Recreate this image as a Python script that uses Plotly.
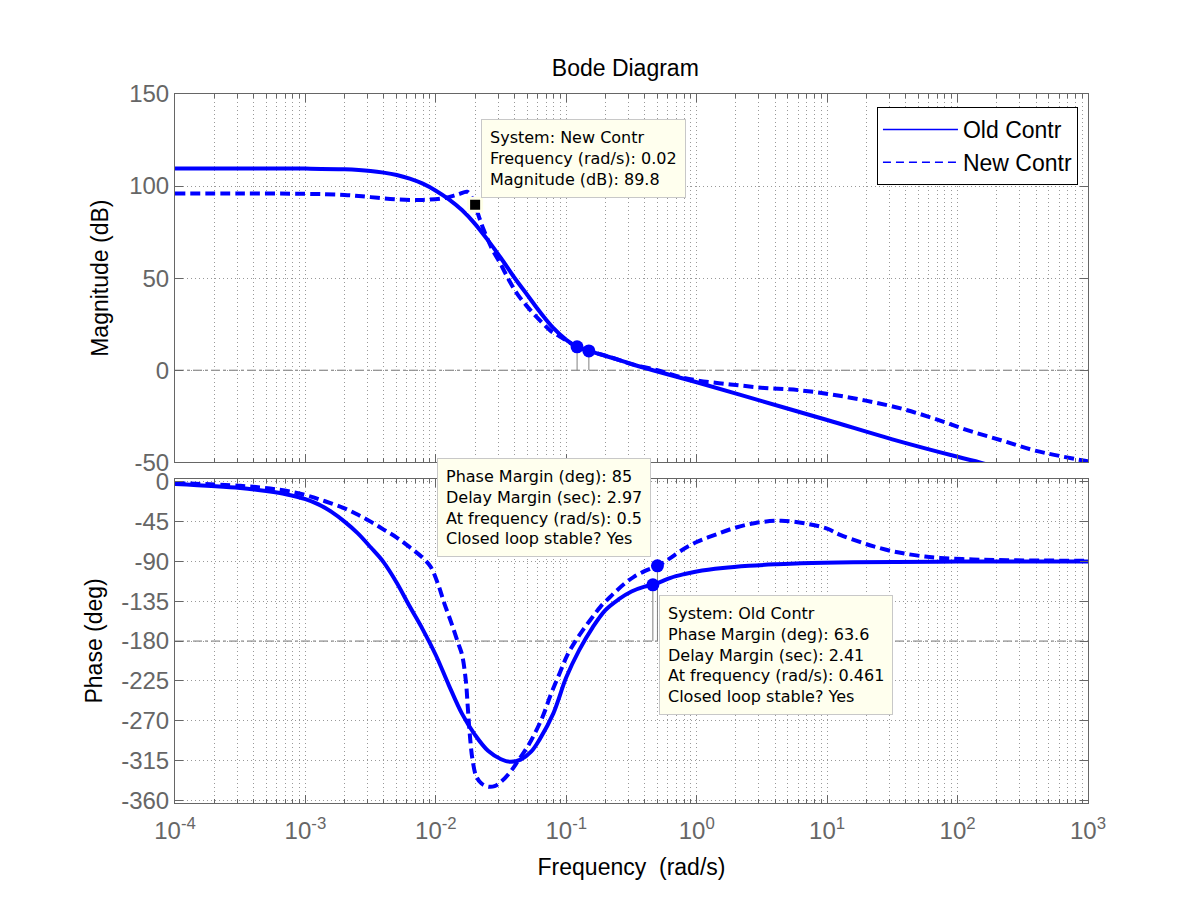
import numpy as np
import plotly.graph_objects as go

# ---- data ----
# frequencies are stored as decade exponents (log10 of rad/s), read from the x axis

# Old controller, magnitude (dB)
e_old_mag = [-4.0, -3.5, -3.0, -2.7, -2.5, -2.4, -2.3, -2.2, -2.1, -2.0, -1.9, -1.8,
             -1.7, -1.6, -1.5, -1.4, -1.3, -1.2, -1.1, -1.0, -0.918, -0.826, -0.65,
             -0.5, -0.336, 0.0, 0.5, 1.0, 1.5, 2.0, 2.17, 2.3]
mag_old = [109.6, 109.6, 109.5, 109.1, 108.2, 107.3, 106.0, 104.0, 101.3, 97.5, 92.8, 87.0,
           79.5, 70.5, 60.8, 50.5, 41.0, 31.5, 23.0, 16.5, 12.7, 10.5, 6.8,
           3.4, 0.0, -6.5, -16.8, -27.0, -37.5, -47.0, -50.0, -52.5]

# New controller, magnitude (dB)
e_new_mag = [-4.0, -3.5, -3.0, -2.7, -2.5, -2.3, -2.1, -1.94, -1.83, -1.76, -1.73, -1.699,
             -1.668, -1.63, -1.57, -1.503, -1.44, -1.375, -1.31, -1.247, -1.18, -1.12,
             -1.05, -0.992, -0.918, -0.826, -0.65, -0.5, -0.301, -0.15, 0.0, 0.259,
             0.519, 0.778, 1.037, 1.296, 1.556, 1.815, 2.074, 2.333, 2.593, 3.0]
mag_new = [96.0, 96.0, 95.8, 95.2, 94.0, 92.8, 92.5, 93.4, 95.5, 96.9, 94.5, 89.8,
           83.0, 75.7, 66.0, 57.6, 49.0, 41.3, 35.5, 30.4, 25.5, 21.4,
           18.3, 15.9, 12.7, 10.5, 6.8, 3.3, 0.0, -3.2, -5.5, -7.7,
           -9.6, -10.8, -13.2, -16.5, -20.6, -26.1, -32.5, -38.0, -43.6, -49.5]

# Old controller, phase (deg)
e_old_ph = [-4.0, -3.5, -3.3, -3.15, -3.0, -2.9, -2.8, -2.7, -2.6, -2.5, -2.4, -2.3, -2.2,
            -2.1, -2.0, -1.9, -1.8, -1.7, -1.6, -1.5, -1.43, -1.35, -1.27, -1.2, -1.1,
            -1.0, -0.9, -0.8, -0.7, -0.6, -0.5, -0.4, -0.336, -0.2, -0.1, 0.0, 0.2,
            0.4, 0.6, 0.8, 1.2, 2.0, 3.0]
ph_old = [-2.5, -7.0, -10.5, -14.0, -19.5, -25.5, -34.0, -45.0, -58.0, -74.0, -91.0, -114.0, -141.0,
          -167.0, -196.0, -230.0, -262.0, -286.0, -304.0, -313.5, -316.5, -314.0, -305.0, -290.0, -262.0,
          -221.0, -190.0, -165.0, -145.0, -133.0, -124.0, -118.5, -116.4, -108.5, -104.5, -101.4, -97.5,
          -95.0, -93.3, -92.0, -90.8, -90.2, -90.0]

# New controller, phase (deg)
e_new_ph = [-4.0, -3.5, -3.2, -3.0, -2.85, -2.7, -2.6, -2.5, -2.4, -2.3, -2.2, -2.1,
            -2.04, -1.98, -1.936, -1.88, -1.83, -1.8, -1.77, -1.755, -1.74, -1.72, -1.69,
            -1.65, -1.6, -1.55, -1.5, -1.43, -1.375, -1.3, -1.247, -1.18, -1.12, -1.05,
            -0.992, -0.93, -0.865, -0.8, -0.737, -0.67, -0.61, -0.54, -0.482, -0.4,
            -0.301, -0.2, -0.128, 0.0, 0.14, 0.28, 0.45, 0.65, 0.85, 1.0, 1.1, 1.25,
            1.357, 1.5, 1.61, 1.75, 1.867, 2.12, 2.38, 3.0]
ph_new = [-1.5, -4.5, -9.0, -15.0, -22.0, -30.0, -37.0, -45.0, -54.0, -63.0, -74.0, -86.0,
          -96.0, -117.0, -137.0, -160.0, -182.0, -195.0, -225.0, -255.0, -285.0, -313.0, -333.0,
          -341.0, -344.5, -344.0, -339.0, -328.0, -316.6, -300.0, -286.0, -265.0, -241.0, -216.0,
          -196.0, -180.0, -166.0, -153.0, -141.0, -131.0, -122.5, -113.5, -107.4, -101.0,
          -95.0, -86.0, -78.6, -68.0, -60.0, -52.6, -46.5, -44.0, -47.5, -53.0, -60.0, -68.0,
          -73.0, -78.5, -81.5, -84.5, -86.0, -87.8, -88.6, -89.3]

# margin markers (frequency in rad/s, value)
gm_freq = [0.121, 0.149]
gm_mag = [12.7, 10.5]
pm_freq = [0.461, 0.5]
pm_phase = [-116.4, -95.0]
tip_freq = 0.02
tip_mag = 89.8

mag_ticks = [-50, 0, 50, 100, 150]
phase_ticks = [0, -45, -90, -135, -180, -225, -270, -315, -360]


def to_freq(exps):
    return [10.0 ** e for e in exps]


blue = "#0000FF"
gray = "#666666"
font = "Liberation Sans, Arial, Helvetica, sans-serif"

fig = go.Figure()

spline = dict(shape="spline", smoothing=1.0)

# magnitude curves
fig.add_trace(go.Scatter(x=to_freq(e_old_mag), y=mag_old, mode="lines", showlegend=False,
                         line=dict(color=blue, width=4, **spline), xaxis="x", yaxis="y"))
fig.add_trace(go.Scatter(x=to_freq(e_new_mag), y=mag_new, mode="lines", showlegend=False,
                         line=dict(color=blue, width=4, dash="10px,5px", **spline),
                         xaxis="x", yaxis="y"))
# phase curves
fig.add_trace(go.Scatter(x=to_freq(e_old_ph), y=ph_old, mode="lines", showlegend=False,
                         line=dict(color=blue, width=4, **spline), xaxis="x2", yaxis="y2"))
fig.add_trace(go.Scatter(x=to_freq(e_new_ph), y=ph_new, mode="lines", showlegend=False,
                         line=dict(color=blue, width=4, dash="10px,5px", **spline),
                         xaxis="x2", yaxis="y2"))

# stems from margin markers to the reference lines
for f, m in zip(gm_freq, gm_mag):
    fig.add_trace(go.Scatter(x=[f, f], y=[m, 0], mode="lines", showlegend=False,
                             line=dict(color="#808080", width=1), xaxis="x", yaxis="y"))
for f, p in zip(pm_freq, pm_phase):
    fig.add_trace(go.Scatter(x=[f, f], y=[p, -180], mode="lines", showlegend=False,
                             line=dict(color="#808080", width=1), xaxis="x2", yaxis="y2"))

fig.add_trace(go.Scatter(x=gm_freq, y=gm_mag, mode="markers", showlegend=False,
                         marker=dict(color=blue, size=13), xaxis="x", yaxis="y"))
fig.add_trace(go.Scatter(x=pm_freq, y=pm_phase, mode="markers", showlegend=False,
                         marker=dict(color=blue, size=13), xaxis="x2", yaxis="y2"))
fig.add_trace(go.Scatter(x=[tip_freq], y=[tip_mag], mode="markers", showlegend=False,
                         marker=dict(color="black", size=13, symbol="square",
                                     line=dict(color="#FFFFE8", width=3)),
                         xaxis="x", yaxis="y"))

# legend-only entries (thin lines like the MATLAB legend)
fig.add_trace(go.Scatter(x=[None], y=[None], mode="lines", name="Old Contr",
                         line=dict(color=blue, width=1.5), xaxis="x2", yaxis="y2"))
fig.add_trace(go.Scatter(x=[None], y=[None], mode="lines", name="New Contr",
                         line=dict(color=blue, width=1.5, dash="8px,5px"), xaxis="x2", yaxis="y2"))

minor_vals = [m * 10.0 ** k for k in range(-4, 3) for m in range(2, 10)]
major_vals = [10.0 ** k for k in range(-4, 4)]
major_text = ["10<sup>%d</sup>" % k for k in range(-4, 4)]

grid = dict(showgrid=True, gridcolor="#999999", griddash="1px,3px", gridwidth=1)
xcommon = dict(type="log", range=[-4, 3], showline=True, linecolor=gray, linewidth=1,
               mirror="ticks", ticks="inside", ticklen=8, tickcolor=gray,
               tickvals=major_vals, zeroline=False, **grid,
               minor=dict(tickvals=minor_vals, ticks="inside", ticklen=4, tickcolor=gray, **grid))
ycommon = dict(showline=True, linecolor=gray, linewidth=1, mirror="ticks", ticks="inside",
               ticklen=8, tickcolor=gray, zeroline=False, **grid,
               tickfont=dict(size=24, color=gray, family=font))

fig.update_layout(
    width=1201, height=901,
    paper_bgcolor="white", plot_bgcolor="white",
    margin=dict(l=167, r=121, t=86, b=106),
    font=dict(family=font, color="black"),
    title=dict(text="Bode Diagram", x=0.514, xanchor="center", y=0.933, yanchor="middle",
               font=dict(size=23, color="black", family=font)),
    xaxis=dict(xcommon, domain=[0, 1], anchor="y", showticklabels=False),
    xaxis2=dict(xcommon, domain=[0, 1], anchor="y2", ticktext=major_text,
                tickfont=dict(size=24, color=gray, family=font), ticklabelstandoff=6,
                title=dict(text="Frequency  (rad/s)", font=dict(size=23, color="black"), standoff=16)),
    yaxis=dict(ycommon, domain=[0.4805, 1], anchor="x", range=[-50, 150],
               tickvals=mag_ticks, ticktext=[str(v) for v in mag_ticks],
               title=dict(text="Magnitude (dB)", font=dict(size=23, color="black"), standoff=14)),
    yaxis2=dict(ycommon, domain=[0, 0.4574], anchor="x2", range=[-363, 3.5],
                tickvals=phase_ticks, ticktext=[str(v) for v in phase_ticks],
                title=dict(text="Phase (deg)", font=dict(size=23, color="black"), standoff=12)),
    legend=dict(x=0.989, xanchor="right", y=0.9817, yanchor="top", bgcolor="white",
                bordercolor="black", borderwidth=1, font=dict(size=23, color="black"),
                itemwidth=75, tracegroupgap=0),
    showlegend=True,
)

# reference lines (0 dB and -180 deg)
fig.add_shape(type="line", xref="x domain", x0=0, x1=1, yref="y", y0=0, y1=0,
              line=dict(color="#707070", width=1, dash="dashdot"), layer="below")
fig.add_shape(type="line", xref="x2 domain", x0=0, x1=1, yref="y2", y0=-180, y1=-180,
              line=dict(color="#707070", width=1, dash="dashdot"), layer="below")

box = dict(showarrow=False, align="left", bgcolor="#FFFFEE", bordercolor="#C8C8C8",
           borderwidth=1, borderpad=8,
           font=dict(size=16, color="black", family="DejaVu Sans, sans-serif"))

fig.add_annotation(box, x=np.log10(tip_freq), y=tip_mag, xref="x", yref="y",
                   xanchor="left", yanchor="bottom", xshift=6, yshift=7,
                   text="System: New Contr<br>Frequency (rad/s): 0.02<br>Magnitude (dB): 89.8")
fig.add_annotation(box, x=np.log10(pm_freq[1]), y=pm_phase[1], xref="x2", yref="y2",
                   xanchor="right", yanchor="bottom", xshift=-6, yshift=9,
                   text="Phase Margin (deg): 85<br>Delay Margin (sec): 2.97<br>"
                        "At frequency (rad/s): 0.5<br>Closed loop stable? Yes")
fig.add_annotation(box, x=np.log10(pm_freq[0]), y=pm_phase[0], xref="x2", yref="y2",
                   xanchor="left", yanchor="top", xshift=6, yshift=-10,
                   text="System: Old Contr<br>Phase Margin (deg): 63.6<br>Delay Margin (sec): 2.41<br>"
                        "At frequency (rad/s): 0.461<br>Closed loop stable? Yes")

fig.write_html("out.html")
